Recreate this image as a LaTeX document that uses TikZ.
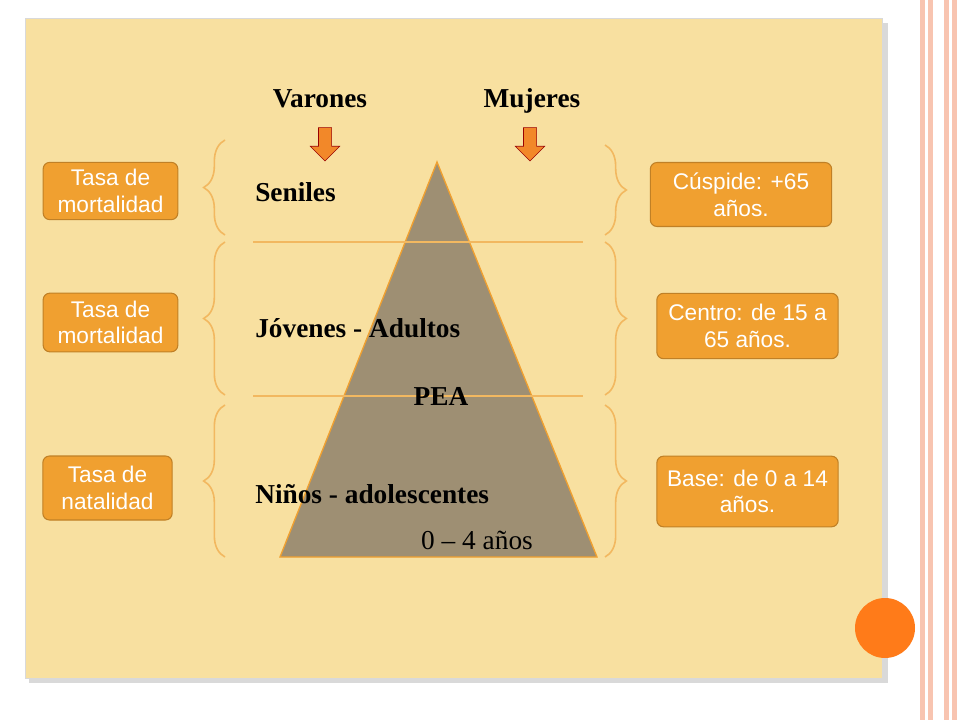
\documentclass[tikz,border=0pt]{standalone}
\usepackage{fontspec}
\setmainfont{Liberation Serif}
\setsansfont{Liberation Sans}
\usetikzlibrary{decorations.pathreplacing,shapes.arrows}
\definecolor{panel}{HTML}{F8E0A0}
\definecolor{boxo}{HTML}{F0A030}
\definecolor{tri}{HTML}{9E8F73}
\definecolor{lino}{HTML}{F2B860}
\definecolor{stripe}{HTML}{F8C4B0}
\tikzset{
 obox/.style={draw=boxo!80!black,fill=boxo,rounded corners=5pt,text=white,font=\sffamily\fontsize{17}{20}\selectfont,align=center,line width=0.8pt,inner sep=1pt},
 lbl/.style={font=\bfseries\fontsize{20.5}{22}\selectfont,anchor=west,inner sep=0},
 brc/.style={draw=lino,line width=1.2pt,decorate,decoration={brace,amplitude=16pt}},
 darr/.style={single arrow,shape border rotate=270,fill=boxo!85!red,draw=red!60!black,minimum height=25pt,minimum width=22pt,single arrow head extend=4pt,inner sep=3pt}
}
\begin{document}
\begin{tikzpicture}[x=0.75pt,y=-0.75pt]
\useasboundingbox (0,0) rectangle (960,720);
\fill[white] (0,0) rectangle (960,720);
\foreach \x in {920,928,944,952} \fill[stripe] (\x,0) rectangle (\x+5,720);
\fill[gray!30] (29,23) rectangle (888,683);
\fill[panel] (25,18) rectangle (882,678);
\draw[black!15] (25,18) rectangle (882,678);
\fill[orange!85!red!90!white] (885,628) circle (30);
\draw[fill=tri,draw=boxo,line width=1pt] (437,162) coordinate (apex) -- (597,557) -- (280,557) -- cycle;
\draw[lino,line width=1pt] (253,242) -- (583,242);
\draw[lino,line width=1pt] (253,396) -- (583,396);
\draw[brc] (225,557) -- (225,405);
\draw[brc] (225,395) -- (225,242);
\draw[brc] (225,235) -- (225,140);
\draw[brc] (605,145) -- (605,235);
\draw[brc] (605,242) -- (605,395);
\draw[brc] (605,405) -- (605,557);
\node[obox,minimum width=101pt,minimum height=43pt] (l1) at (110.5,191) {Tasa de\\mortalidad};
\node[obox,minimum width=101pt,minimum height=44pt] (l2) at (110.5,322.5) {Tasa de\\mortalidad};
\node[obox,minimum width=97pt,minimum height=48pt] (l3) at (107.5,488) {Tasa de\\natalidad};
\node[obox,minimum width=136pt,minimum height=48pt] (r1) at (741,194.5) {Cúspide: +65\\años.};
\node[obox,minimum width=136pt,minimum height=49pt] (r2) at (747.5,326) {Centro: de 15 a\\65 años.};
\node[obox,minimum width=136pt,minimum height=53pt] (r3) at (747.5,491.5) {Base: de 0 a 14\\años.};
\node[darr] (a1) at (325,141) {};
\node[darr] (a2) at (530,141) {};
\node[lbl,anchor=base] (v) at (320,108) {Varones};
\node[lbl,anchor=base] (m) at (532,108) {Mujeres};
\node[lbl] (s) at (255,192) {Seniles};
\node[lbl] (j) at (255,328) {Jóvenes - Adultos};
\node[lbl,anchor=center] (p) at (441,396) {PEA};
\node[lbl] (n) at (255,494) {Niños - adolescentes};
\node[font=\fontsize{20.5}{22}\selectfont,inner sep=0] (e) at (477,540) {0 – 4 años};
\end{tikzpicture}
\end{document}
